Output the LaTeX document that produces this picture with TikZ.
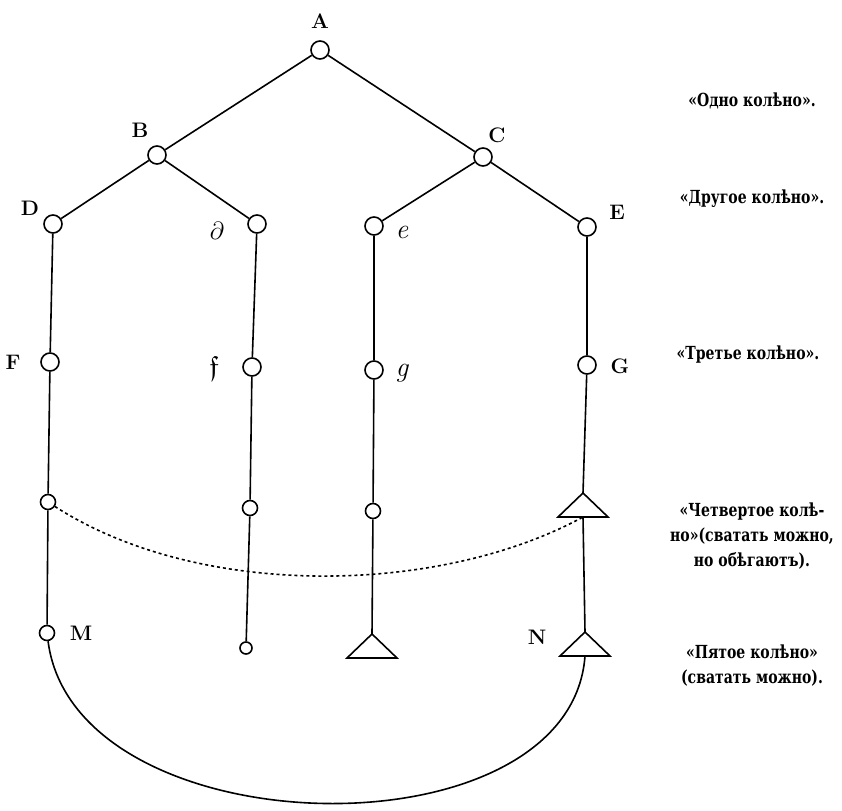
\documentclass[tikz,border=0pt]{standalone}
\usepackage{amssymb}
\usepackage{fontspec}
\newfontfamily\rufont{DejaVu Serif}[FakeStretch=0.78]
\usetikzlibrary{calc, positioning}

\begin{document}
\begin{tikzpicture}[x=1pt, y=-1pt, line width=1.6pt,
  knot/.style={circle, draw, fill=white, inner sep=0pt, minimum size=18pt},
  small knot/.style={knot, minimum size=15pt},
  tiny knot/.style={knot, minimum size=12pt},
  lbl/.style={font=\fontsize{21}{21}\selectfont\bfseries},
  slbl/.style={font=\fontsize{28}{28}\selectfont},
  note/.style={font=\rufont\fontsize{18}{25}\selectfont\bfseries, align=center},
  tri/.pic={\draw (0,0) -- (-25,24) -- (25,24) -- cycle;}]
\useasboundingbox (0,0) rectangle (842,810);

% knots
\node[knot] (a) at (320,50) {};
\node[knot] (b) at (157,155) {};
\node[knot] (c) at (483,157) {};
\node[knot] (d) at (53,224) {};
\node[knot] (dd) at (257,224) {};
\node[knot] (ee) at (374,226) {};
\node[knot] (e) at (587,227) {};
\node[knot] (f) at (50,362) {};
\node[knot] (ff) at (252,367) {};
\node[knot] (gg) at (374,370) {};
\node[knot] (g) at (587,365) {};
\node[small knot] (k1) at (48,502) {};
\node[small knot] (k2) at (250,508) {};
\node[small knot] (k3) at (373,511) {};
\node[small knot] (m) at (47,633) {};
\node[tiny knot] (k4) at (246,648) {};

% triangles
\coordinate (t4) at (583,493);
\coordinate (t4b) at (583,517);
\coordinate (t3) at (372,634);
\coordinate (t5) at (585,632);
\coordinate (t5b) at (585,656);
\pic at (t4) {tri};
\pic at (t3) {tri};
\pic at (t5) {tri};

% lines
\draw (a) -- (b);
\draw (a) -- (c);
\draw (b) -- (d);
\draw (b) -- (dd);
\draw (c) -- (ee);
\draw (c) -- (e);
\draw (d) -- (f) -- (k1) -- (m);
\draw (dd) -- (ff) -- (k2) -- (k4);
\draw (ee) -- (gg) -- (k3) -- (t3);
\draw (e) -- (g) -- (t4);
\draw (t4b) -- (t5);

\draw[dash pattern=on 3pt off 3pt] (k1) .. controls (200,600) and (440,595) .. (t4b);
\draw (m) .. controls (75,850) and (570,860) .. (t5b);

% letters
\node[lbl] (la) at (320,21) {A};
\node[lbl] (lb) at (140,130) {B};
\node[lbl] (lc) at (497,135) {C};
\node[lbl] (ld) at (30,208) {D};
\node[lbl] (le) at (617,212) {E};
\node[lbl] (lf) at (13,362) {F};
\node[lbl] (lg) at (620,366) {G};
\node[lbl] (lm) at (81,633) {M};
\node[lbl] (ln) at (537,637) {N};
\node[slbl] (ldd) at (217,231) {$\partial$};
\node[slbl] (lee) at (402,232) {$\mathit{e}$};
\node[slbl] (lff) at (214,368) {$\mathfrak{f}$};
\node[slbl] (lgg) at (402,373) {$\mathit{g}$};

% notes
\node[note] (n1) at (752,101) {«Одно колѣно».};
\node[note] (n2) at (752,199) {«Другое колѣно».};
\node[note] (n3) at (748,355) {«Третье колѣно».};
\node[note] (n4) at (752,536) {«Четвертое колѣ-\\но»(сватать можно,\\но обѣгаютъ).};
\node[note] (n5) at (752,666) {«Пятое колѣно»\\(сватать можно).};
\end{tikzpicture}
\end{document}
